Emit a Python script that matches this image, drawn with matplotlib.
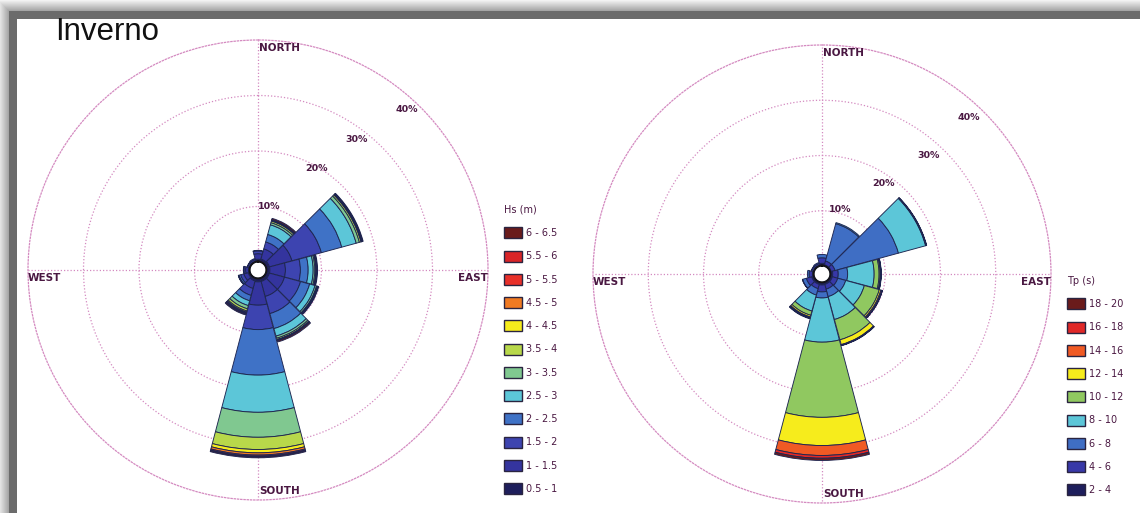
import numpy as np
import matplotlib.pyplot as plt
from matplotlib.patches import Patch

# wave direction sectors (degrees from north, clockwise)
directions = [0, 30, 60, 90, 120, 150, 180, 210, 240, 270, 300, 330]

# significant wave height classes, frequency (%) per class and direction
hs_labels = ['0.5 - 1', '1 - 1.5', '1.5 - 2', '2 - 2.5', '2.5 - 3', '3 - 3.5',
             '3.5 - 4', '4 - 4.5', '4.5 - 5', '5 - 5.5', '5.5 - 6', '6 - 6.5']
hs_colors = ['#1e1e5c', '#34349e', '#3d44b0', '#3f72c6', '#5cc6d8', '#80c890',
             '#b8d84a', '#f6ec1c', '#f07a22', '#e8302a', '#d92428', '#6a1b1b']
hs_freq = [
    [0.5, 0.6, 0.7, 0.7, 0.7, 0.7, 0.7, 0.6, 0.4, 0.3, 0.2, 0.2],
    [1.0, 1.9, 4.2, 2.8, 2.8, 2.8, 4.2, 1.4, 0.8, 0.5, 0.3, 0.3],
    [0.5, 1.3, 5.5, 2.7, 3.0, 3.2, 4.4, 1.3, 0.6, 0.3, 0.1, 0.2],
    [0.1, 1.4, 3.8, 1.4, 1.7, 2.8, 8.2, 1.0, 0.3, 0.1, 0.0, 0.0],
    [0.0, 1.8, 2.7, 0.9, 1.0, 1.4, 6.7, 0.9, 0.1, 0.0, 0.0, 0.0],
    [0.0, 0.4, 0.6, 0.3, 0.3, 0.4, 4.5, 0.6, 0.05, 0.0, 0.0, 0.0],
    [0.0, 0.3, 0.3, 0.2, 0.1, 0.25, 2.2, 0.4, 0.0, 0.0, 0.0, 0.0],
    [0.0, 0.1, 0.1, 0.05, 0.05, 0.05, 0.6, 0.2, 0.0, 0.0, 0.0, 0.0],
    [0.0, 0.05, 0.05, 0.05, 0.05, 0.05, 0.4, 0.15, 0.0, 0.0, 0.0, 0.0],
    [0.0, 0.05, 0.05, 0.02, 0.02, 0.05, 0.2, 0.1, 0.0, 0.0, 0.0, 0.0],
    [0.0, 0.05, 0.05, 0.02, 0.02, 0.05, 0.1, 0.1, 0.0, 0.0, 0.0, 0.0],
    [0.0, 0.25, 0.15, 0.16, 0.16, 0.25, 0.2, 0.2, 0.0, 0.0, 0.0, 0.0],
]

# peak period classes, frequency (%) per class and direction
tp_labels = ['2 - 4', '4 - 6', '6 - 8', '8 - 10', '10 - 12', '12 - 14',
             '14 - 16', '16 - 18', '18 - 20']
tp_colors = ['#1e1e5c', '#3838a8', '#3f6ec4', '#5cc6d8', '#90c860', '#f6ec1c',
             '#f05a24', '#e02828', '#6a1b1b']
tp_freq = [
    [0.5, 0.3, 0.3, 0.5, 0.5, 0.5, 0.55, 0.5, 0.5, 0.3, 0.2, 0.2],
    [1.0, 0.7, 0.7, 1.0, 1.0, 0.9, 1.25, 0.8, 1.0, 0.6, 0.3, 0.3],
    [0.6, 7.0, 11.9, 1.7, 1.5, 1.4, 1.1, 1.2, 0.7, 0.3, 0.1, 0.2],
    [0.0, 0.2, 5.1, 4.8, 3.5, 4.3, 8.0, 3.0, 0.05, 0.0, 0.0, 0.0],
    [0.0, 0.0, 0.1, 0.9, 2.8, 3.8, 13.6, 0.8, 0.0, 0.0, 0.0, 0.0],
    [0.0, 0.0, 0.05, 0.2, 0.3, 0.9, 5.1, 0.3, 0.0, 0.0, 0.0, 0.0],
    [0.0, 0.0, 0.05, 0.1, 0.2, 0.1, 1.8, 0.15, 0.0, 0.0, 0.0, 0.0],
    [0.0, 0.0, 0.0, 0.05, 0.05, 0.05, 0.5, 0.1, 0.0, 0.0, 0.0, 0.0],
    [0.0, 0.0, 0.0, 0.05, 0.05, 0.05, 0.4, 0.1, 0.0, 0.0, 0.0, 0.0],
]

ring_values = [10, 20, 30, 40]
ring_labels = ['10%', '20%', '30%', '40%']

grid_col = '#d48ac0'
text_col = '#4a1842'

fig = plt.figure(figsize=(11.4, 5.13), dpi=100)

# grey frame with a white panel
H, W = 513, 1140
yy, xx = np.mgrid[0:H, 0:W]
d = np.minimum(xx - 17, yy - 19)
shade = np.where(d >= 0, 1.0,
                 np.where(d >= -8, 0.42, np.clip(0.62 + (-d - 8) * 0.03, 0, 0.95)))
bg = fig.add_axes([0, 0, 1, 1], zorder=-10)
bg.imshow(np.dstack([shade] * 3), extent=(0, W, H, 0), aspect='auto')
bg.axis('off')

fig.text(55 / W, 1 - 32 / H, 'Inverno', fontsize=22.5, family='Liberation Sans',
         va='center', ha='left', color='#111111')


def draw_rose(rect, freq, colors, label_pos):
    ax = fig.add_axes(rect, projection='polar')
    ax.set_facecolor('none')
    ax.set_theta_zero_location('N')
    ax.set_theta_direction(-1)
    ax.set_axisbelow(True)

    theta = np.deg2rad(directions)
    bottom = np.zeros(len(directions))
    for vals, col in zip(freq, colors):
        vals = np.asarray(vals, dtype=float)
        m = vals > 0
        ax.bar(theta[m], vals[m], width=np.deg2rad(29.5), bottom=bottom[m],
               color=col, edgecolor='#1d2550', linewidth=0.65, zorder=3)
        bottom += vals

    ax.set_ylim(0, 40)
    ax.set_rorigin(-1.44)
    ax.set_rgrids(ring_values[:-1], labels=[])
    ax.set_thetagrids([0, 90, 180, 270], labels=[])
    ax.grid(color=grid_col, linestyle=(0, (1, 1.6)), linewidth=0.9)
    ax.spines['polar'].set_color(grid_col)
    ax.spines['polar'].set_linestyle((0, (1, 1.6)))
    ax.spines['polar'].set_linewidth(0.9)

    # white hole in the middle
    circ = np.linspace(0, 2 * np.pi, 200)
    ax.plot(circ, np.zeros_like(circ), color='#151515', lw=2, zorder=5)

    for lab, (az, r) in zip(ring_labels, label_pos):
        ax.text(np.deg2rad(az), r, lab, fontsize=6.8, fontweight='bold',
                color=text_col, ha='center', va='center', zorder=6)

    kw = dict(transform=ax.transAxes, fontsize=7.5, fontweight='bold', color=text_col)
    ax.text(0.502, 0.983, 'NORTH', ha='left', va='center', **kw)
    ax.text(0.502, 0.02, 'SOUTH', ha='left', va='center', **kw)
    ax.text(0.0, 0.483, 'WEST', ha='left', va='center', **kw)
    ax.text(1.0, 0.483, 'EAST', ha='right', va='center', **kw)
    return ax


draw_rose([28 / W, (H - 270 - 230) / H, 460 / W, 460 / H], hs_freq, hs_colors,
          [(10, 10.2), (30, 19.6), (37, 28.0), (43, 38.0)])
draw_rose([593 / W, (H - 274 - 229) / H, 458 / W, 458 / H], tp_freq, tp_colors,
          [(16, 10.7), (34, 18.4), (42, 27.4), (43, 37.4)])


def add_legend(labels, colors, title, x, y):
    handles = [Patch(facecolor=c, edgecolor='#2a2440', linewidth=1.0, label=l)
               for l, c in zip(labels, colors)][::-1]
    leg = fig.legend(handles=handles, title=title, loc='upper left',
                     bbox_to_anchor=(x, y), frameon=False, fontsize=7,
                     title_fontsize=7, handlelength=1.8, handleheight=1.35,
                     handletextpad=0.5, labelspacing=1.27, borderpad=0,
                     borderaxespad=0, alignment='left')
    for t in leg.get_texts():
        t.set_color(text_col)
    leg.get_title().set_color(text_col)
    return leg


add_legend(hs_labels, hs_colors, 'Hs (m)', 504 / W, 1 - 205 / H)
add_legend(tp_labels, tp_colors, 'Tp (s)', 1067 / W, 1 - 276 / H)

plt.savefig('out.png', dpi=100)
